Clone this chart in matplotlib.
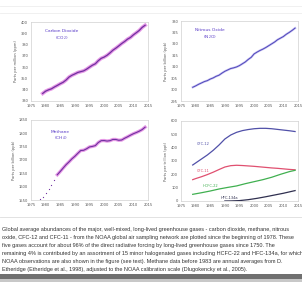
import matplotlib
matplotlib.use("Agg")
import matplotlib.pyplot as plt
import textwrap

years = list(range(1979, 2015))
co2 = [336.7, 338.7, 339.9, 340.8, 342.4, 343.8, 345.3, 346.6, 348.6, 351.2, 352.8, 354.0,
       355.3, 356.0, 356.7, 358.2, 360.0, 361.7, 363.0, 365.7, 367.8, 368.9, 370.5, 372.6,
       375.0, 376.8, 378.8, 380.9, 382.7, 384.8, 386.3, 388.6, 390.5, 392.5, 395.2, 397.1]
n2o = [301.0, 301.6, 302.3, 302.9, 303.5, 303.9, 304.6, 305.1, 305.8, 306.3, 307.2, 308.0,
       308.6, 309.2, 309.5, 309.9, 310.5, 311.3, 312.1, 313.2, 314.1, 315.6, 316.4, 317.1,
       317.7, 318.4, 319.2, 320.0, 320.8, 321.8, 322.5, 323.2, 324.2, 325.0, 325.9, 326.9]
ch4_early_years = [1978, 1979, 1980, 1981, 1982, 1983]
ch4_early = [1552, 1563, 1577, 1592, 1607, 1626]
ch4_years = list(range(1984, 2015))
ch4 = [1644.8, 1657, 1670, 1682.5, 1693, 1704.5, 1714, 1725, 1735.5, 1736.5, 1742, 1749,
       1751, 1754, 1765.5, 1772.5, 1773, 1771, 1772.5, 1777, 1777, 1774, 1775, 1781.5,
       1787, 1793, 1798.5, 1803, 1808, 1814, 1823]

halo_years = [1979, 1980, 1982, 1984, 1986, 1988, 1990, 1992, 1994, 1996, 1998, 2000,
              2002, 2004, 2006, 2008, 2010, 2012, 2014]
cfc12 = [270, 285, 315, 345, 380, 420, 465, 495, 515, 528, 536, 542, 545, 545, 542, 537,
         532, 527, 521]
cfc11 = [160, 168, 182, 198, 216, 236, 255, 265, 268, 266, 263, 260, 256, 252, 248, 245,
         241, 237, 234]
hcfc_years = [1979, 1982, 1985, 1988, 1991, 1994, 1997, 2000, 2003, 2006, 2009, 2012, 2014]
hcfc22 = [50, 62, 75, 90, 102, 113, 130, 145, 160, 178, 200, 220, 230]
hfc_years = [1990, 1992, 1995, 1998, 2001, 2004, 2007, 2010, 2012, 2014]
hfc134a = [0, 0.5, 3, 10, 20, 32, 45, 58, 68, 78]

xticks = [1975, 1980, 1985, 1990, 1995, 2000, 2005, 2010, 2015]

caption = ("Global average abundances of the major, well-mixed, long-lived greenhouse gases - "
           "carbon dioxide, methane, nitrous oxide, CFC-12 and CFC-11 - from the NOAA global air "
           "sampling network are plotted since the beginning of 1978. These five gases account for "
           "about 96% of the direct radiative forcing by long-lived greenhouse gases since 1750. "
           "The remaining 4% is contributed by an assortment of 15 minor halogenated gases including "
           "HCFC-22 and HFC-134a, for which NOAA observations are also shown in the figure (see text). "
           "Methane data before 1983 are annual averages from D. Etheridge (Etheridge et al., 1998), "
           "adjusted to the NOAA calibration scale (Dlugokencky et al., 2005).")

W, H = 302, 282
fig = plt.figure(figsize=(W / 100, H / 100), dpi=100)
fig.patch.set_facecolor("white")

def ax_at(x0, y0, x1, y1):
    return fig.add_axes([x0 / W, 1 - y1 / H, (x1 - x0) / W, (y1 - y0) / H])

def style(ax, ylim, yticks, ylabel):
    ax.set_xlim(1975, 2015)
    ax.set_ylim(*ylim)
    ax.set_xticks(xticks)
    ax.set_yticks(yticks)
    ax.tick_params(labelsize=2.6, length=0, pad=2, colors="#555555")
    for s in ax.spines.values():
        s.set_color("#d0d0d0")
        s.set_linewidth(0.5)
    ax.set_ylabel(ylabel, fontsize=2.6, color="#555555", labelpad=2)

# CO2
ax1 = ax_at(31, 22, 148, 101)
style(ax1, (330, 400), list(range(330, 401, 10)), "Parts per million (ppm)")
ax1.plot(years, co2, color="#e080e0", lw=2.6, alpha=0.8)
ax1.plot(years, co2, color="#7030a0", lw=0.9)
ax1.text(1985.5, 388, "Carbon Dioxide\n(CO$_2$)", color="#5a3cc8", fontsize=3.2,
         ha="center", va="center", linespacing=1.2)

# N2O
ax2 = ax_at(181, 21, 298, 101)
style(ax2, (295, 330), list(range(295, 331, 5)), "Parts per billion (ppb)")
ax2.plot(years, n2o, color="#b0a8f0", lw=1.6, alpha=0.7)
ax2.plot(years, n2o, color="#5048b8", lw=0.7)
ax2.text(1985, 324, "Nitrous Oxide\n(N$_2$O)", color="#5a3cc8", fontsize=3.2,
         ha="center", va="center", linespacing=1.2)

# CH4
ax3 = ax_at(31, 120, 148, 200)
style(ax3, (1550, 1850), list(range(1550, 1851, 50)), "Parts per billion (ppb)")
ax3.plot(ch4_early_years, ch4_early, "o", color="#7030a0", ms=0.9, mew=0)
ax3.plot(ch4_years, ch4, color="#e080e0", lw=2.4, alpha=0.8)
ax3.plot(ch4_years, ch4, color="#7030a0", lw=0.8)
ax3.text(1985, 1790, "Methane\n(CH$_4$)", color="#5a3cc8", fontsize=3.2,
         ha="center", va="center", linespacing=1.2)

# Halocarbons
ax4 = ax_at(181, 121, 298, 201)
style(ax4, (0, 600), list(range(0, 601, 100)), "Parts per trillion (ppt)")
ax4.plot(halo_years, cfc12, color="#5050a8", lw=0.9)
ax4.plot(halo_years, cfc11, color="#e05070", lw=0.9)
ax4.plot(hcfc_years, hcfc22, color="#40b050", lw=0.9)
ax4.plot(hfc_years, hfc134a, color="#303050", lw=0.9)
ax4.text(1980.5, 430, "CFC-12", color="#5050a8", fontsize=2.6, va="center")
ax4.text(1980.5, 225, "CFC-11", color="#e05070", fontsize=2.6, va="center")
ax4.text(1982.5, 115, "HCFC-22", color="#40b050", fontsize=2.6, va="center")
ax4.text(1988.5, 25, "HFC-134a", color="#303050", fontsize=2.6, va="center")

# separator lines and caption
sep = fig.add_axes([0, 0, 1, 1], facecolor="none")
sep.set_xlim(0, W)
sep.set_ylim(H, 0)
sep.axis("off")
sep.plot([0, W], [6, 6], color="#eeeeee", lw=0.6)
sep.plot([0, W], [13, 13], color="#eeeeee", lw=0.6)
sep.plot([0, W], [217, 217], color="#dddddd", lw=0.6)
lines = textwrap.wrap(caption, width=118)
y0 = 229
step = min(8.0, 41.0 / max(len(lines) - 1, 1))
for i, line in enumerate(lines):
    sep.text(2, y0 + i * step, line, fontsize=3.95, color="#333333", va="center",
             ha="left", family="Liberation Sans")
sep.fill_between([0, W], 274, 279, color="#707070", lw=0)
sep.fill_between([0, W], 279, 282, color="#c8c8c8", lw=0)

fig.savefig("out.png", dpi=100)
